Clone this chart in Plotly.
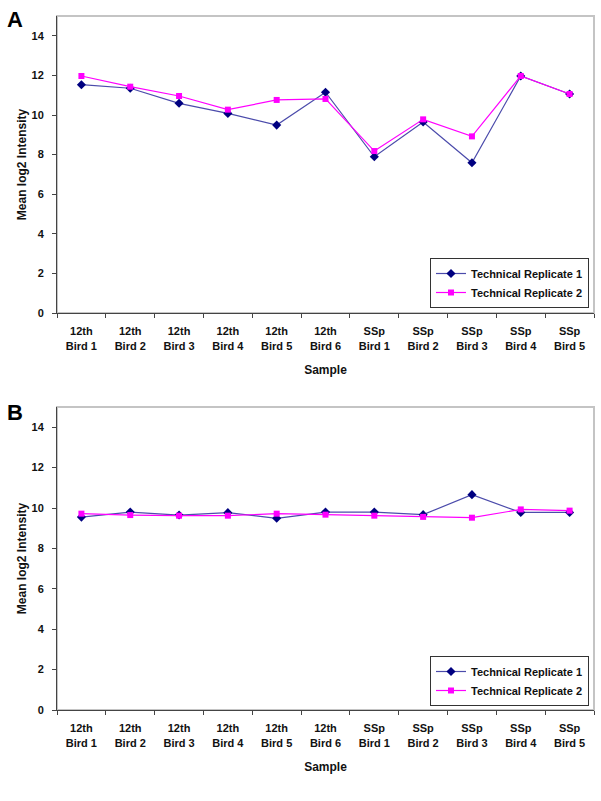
import plotly.graph_objects as go

categories = ["12th<br>Bird 1", "12th<br>Bird 2", "12th<br>Bird 3", "12th<br>Bird 4",
              "12th<br>Bird 5", "12th<br>Bird 6", "SSp<br>Bird 1", "SSp<br>Bird 2",
              "SSp<br>Bird 3", "SSp<br>Bird 4", "SSp<br>Bird 5"]

a_rep1 = [11.53, 11.35, 10.59, 10.08, 9.49, 11.15, 7.89, 9.65, 7.59, 11.97, 11.06]
a_rep2 = [11.97, 11.43, 10.96, 10.27, 10.76, 10.81, 8.18, 9.78, 8.92, 11.97, 11.06]

b_rep1 = [9.55, 9.80, 9.65, 9.77, 9.49, 9.80, 9.80, 9.67, 10.66, 9.78, 9.78]
b_rep2 = [9.72, 9.65, 9.62, 9.62, 9.72, 9.67, 9.62, 9.56, 9.52, 9.93, 9.87]

series_names = ["Technical Replicate 1", "Technical Replicate 2"]
y_ticks = [0, 2, 4, 6, 8, 10, 12, 14]

W, H = 601, 801
FONT = "Liberation Sans, Arial, sans-serif"

fig = go.Figure()

def add_panel(r1, r2, xa, ya, legend):
    fig.add_trace(go.Scatter(
        x=categories, y=r1, name=series_names[0], mode="lines+markers",
        xaxis=xa, yaxis=ya, legend=legend,
        line=dict(color="#4b4bab", width=1.2),
        marker=dict(symbol="diamond", size=7, color="#000080")))
    fig.add_trace(go.Scatter(
        x=categories, y=r2, name=series_names[1], mode="lines+markers",
        xaxis=xa, yaxis=ya, legend=legend,
        line=dict(color="#ff00ff", width=1.2),
        marker=dict(symbol="square", size=6, color="#ff00ff")))

add_panel(a_rep1, a_rep2, "x", "y", "legend")
add_panel(b_rep1, b_rep2, "x2", "y2", "legend2")

def px_x(p):
    return p / W

def px_y(p):
    return 1 - p / H

axis_font = dict(family=FONT, size=11, color="#111111", weight="bold")
title_font = dict(family=FONT, size=12, color="#111111", weight="bold")
legend_font = dict(family=FONT, size=11, color="#111111", weight="bold")

def xaxis_cfg(anchor):
    return dict(
        domain=[px_x(57), px_x(594)], anchor=anchor, type="category",
        range=[-0.5, 10.5], tickson="boundaries", ticks="outside", ticklen=4,
        tickcolor="#444444", showline=True, linecolor="#444444", linewidth=1,
        showgrid=False, zeroline=False, tickfont=axis_font, automargin=False,
        ticklabelstandoff=8,
        title=dict(text="Sample", font=title_font, standoff=15),
        fixedrange=True)

def yaxis_cfg(top, bottom, anchor):
    return dict(
        domain=[px_y(bottom), px_y(top)], anchor=anchor, range=[0, 15],
        tickvals=y_ticks, ticks="outside", ticklen=4, tickcolor="#444444",
        showline=True, linecolor="#444444", linewidth=1, showgrid=False,
        zeroline=False, tickfont=axis_font, automargin=False,
        ticklabelstandoff=6,
        title=dict(text="Mean log2 Intensity", font=title_font, standoff=2),
        fixedrange=True)

fig.update_layout(
    width=W, height=H, margin=dict(l=0, r=0, t=0, b=0, autoexpand=False),
    paper_bgcolor="white", plot_bgcolor="white",
    font=dict(family=FONT, size=11, color="#111111"),
    xaxis=xaxis_cfg("y"),
    yaxis=yaxis_cfg(16, 313, "x"),
    xaxis2=xaxis_cfg("y2"),
    yaxis2=yaxis_cfg(407, 710, "x2"),
    legend=dict(x=px_x(430), y=px_y(258), xanchor="left", yanchor="top",
                bordercolor="#333333", borderwidth=1, bgcolor="white",
                font=legend_font),
    legend2=dict(x=px_x(430), y=px_y(656), xanchor="left", yanchor="top",
                 bordercolor="#333333", borderwidth=1, bgcolor="white",
                 font=legend_font),
    showlegend=True,
)

# plot-area frame (light gray top/right border)
for xr, yr in (("x domain", "y domain"), ("x2 domain", "y2 domain")):
    fig.add_shape(type="rect", xref=xr, yref=yr, x0=0, x1=1, y0=0, y1=1,
                  line=dict(color="#c4c4c4", width=2), layer="below")

for label, cy in (("A", 19.5), ("B", 412)):
    fig.add_annotation(text="<b>%s</b>" % label, x=px_x(15), y=px_y(cy),
                       xref="paper", yref="paper", xanchor="center", yanchor="middle",
                       showarrow=False, font=dict(family=FONT, size=22, color="black"))

fig.write_html("out.html", config={"displayModeBar": False},
               post_script="document.body.style.margin='0';document.body.style.padding='0';")
